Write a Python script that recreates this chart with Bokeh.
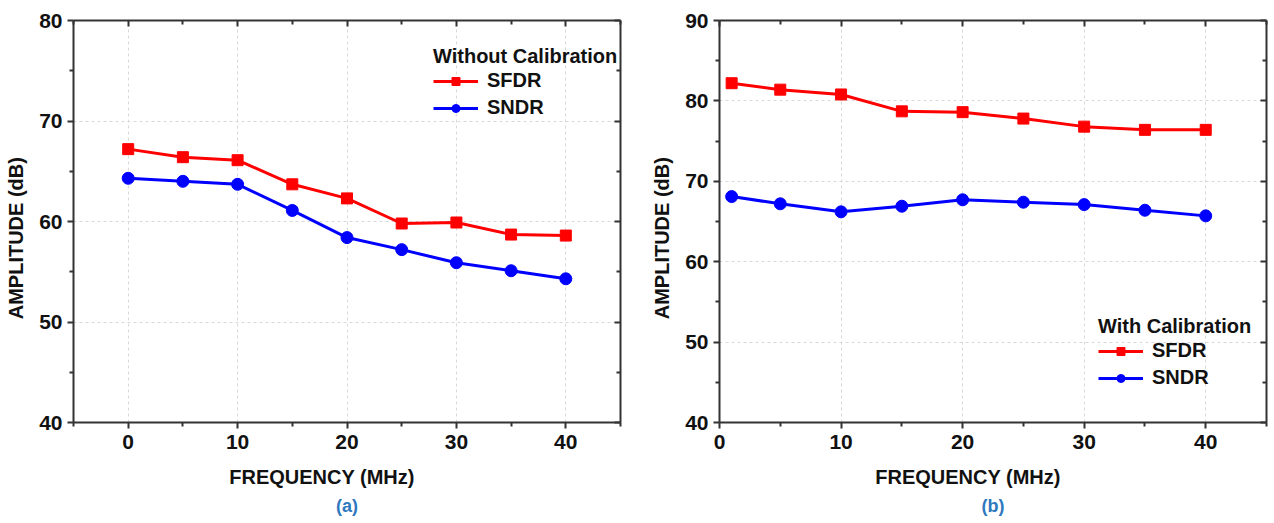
from bokeh.plotting import figure
from bokeh.layouts import row
from bokeh.models import (Range1d, FixedTicker, LinearAxis, Legend, LegendItem, Title,
                          CustomJSTickFormatter)
from bokeh.embed import file_html
from bokeh.resources import INLINE

# ---- data ----
freq_a = [0, 5, 10, 15, 20, 25, 30, 35, 40]
sfdr_a = [67.2, 66.4, 66.1, 63.7, 62.3, 59.8, 59.9, 58.7, 58.6]
sndr_a = [64.3, 64.0, 63.7, 61.1, 58.4, 57.2, 55.9, 55.1, 54.3]

freq_b = [1, 5, 10, 15, 20, 25, 30, 35, 40]
sfdr_b = [82.2, 81.4, 80.8, 78.7, 78.6, 77.8, 76.8, 76.4, 76.4]
sndr_b = [68.1, 67.2, 66.2, 66.9, 67.7, 67.4, 67.1, 66.4, 65.7]

x_major = [0, 10, 20, 30, 40]
xa_minor = [-5, 5, 15, 25, 35, 45]
xb_minor = [5, 15, 25, 35, 45]
ya_major = [40, 50, 60, 70, 80]
ya_minor = [45, 55, 65, 75]
yb_major = [40, 50, 60, 70, 80, 90]
yb_minor = [45, 55, 65, 75, 85]

x_label = "FREQUENCY (MHz)"
y_label = "AMPLITUDE (dB)"
NB = "\u00a0"

FONT = "Liberation Sans"
RED = "#ff0000"
BLUE = "#0000ff"
AXC = "#333333"
CAPC = "#2e78c0"


def style_axis(ax, ticker, side):
    ax.ticker = ticker
    ax.axis_line_width = 2
    ax.axis_line_color = AXC
    ax.major_tick_line_color = AXC
    ax.minor_tick_line_color = AXC
    ax.major_tick_line_width = 2
    ax.minor_tick_line_width = 2
    ax.major_label_text_font = FONT
    ax.major_label_text_font_style = "bold"
    ax.major_label_text_font_size = "21px"
    ax.major_label_text_color = "#111111"
    ax.axis_label_text_font = FONT
    ax.axis_label_text_font_style = "bold"
    ax.axis_label_text_font_size = "20px"
    ax.axis_label_text_color = "#111111"
    if side in ("left", "below"):
        ax.major_tick_out = 6
        ax.major_tick_in = 0
        ax.minor_tick_out = 4
        ax.minor_tick_in = 0
        ax.major_label_standoff = 5
    else:
        ax.major_tick_out = 0
        ax.major_tick_in = 6
        ax.minor_tick_out = 0
        ax.minor_tick_in = 4
        ax.formatter = CustomJSTickFormatter(code="return ''")
        ax.major_label_standoff = 0


def make_plot(xs, sfdr, sndr, xr, yr, xminor, ymajor, yminor, title, width,
              bl, br, caption, leg_loc):
    p = figure(width=width, height=520, x_range=Range1d(*xr), y_range=Range1d(*yr),
               output_backend="svg", toolbar_location=None,
               min_border_left=bl, min_border_right=br, min_border_top=20,
               min_border_bottom=98)
    p.outline_line_color = None
    p.background_fill_color = "white"
    p.border_fill_color = "white"
    xt = FixedTicker(ticks=x_major, minor_ticks=xminor)
    yt = FixedTicker(ticks=ymajor, minor_ticks=yminor)
    style_axis(p.xaxis[0], xt, "below")
    style_axis(p.yaxis[0], yt, "left")
    p.xaxis[0].major_label_standoff = 6
    p.xaxis[0].axis_label = x_label + NB * 9
    p.xaxis[0].axis_label_standoff = 14
    p.yaxis[0].axis_label = y_label + NB * 6
    p.yaxis[0].axis_label_standoff = 9
    top = LinearAxis()
    style_axis(top, FixedTicker(ticks=x_major, minor_ticks=xminor), "above")
    right = LinearAxis()
    style_axis(right, FixedTicker(ticks=ymajor, minor_ticks=yminor), "right")
    p.add_layout(top, "above")
    p.add_layout(right, "right")

    p.xgrid.ticker = FixedTicker(ticks=x_major)
    p.ygrid.ticker = FixedTicker(ticks=ymajor)
    for g in (p.xgrid[0], p.ygrid[0]):
        g.grid_line_color = "#d9d9d9"
        g.grid_line_dash = "3 3"
        g.grid_line_width = 1

    l1 = p.line(xs, sfdr, line_color=RED, line_width=3)
    m1 = p.scatter(xs, sfdr, marker="square", size=11, fill_color=RED, line_color=RED)
    l2 = p.line(xs, sndr, line_color=BLUE, line_width=3)
    m2 = p.scatter(xs, sndr, marker="circle", size=12, fill_color=BLUE, line_color=BLUE)

    leg = Legend(items=[LegendItem(label="SFDR", renderers=[l1, m1]),
                        LegendItem(label="SNDR", renderers=[l2, m2])],
                 location=leg_loc, title=title,
                 title_text_font=FONT, title_text_font_style="bold",
                 title_text_font_size="20px", title_text_color="#111111",
                 title_standoff=1,
                 label_text_font=FONT, label_text_font_style="bold",
                 label_text_font_size="20px", label_text_color="#111111",
                 glyph_width=45, glyph_height=20, label_height=20, spacing=4,
                 label_standoff=9, padding=0, margin=0,
                 border_line_color=None, background_fill_alpha=0)
    p.add_layout(leg, "center")

    cap = Title(text=caption, align="center", text_font=FONT, text_font_style="bold",
                text_font_size="18px", text_color=CAPC, standoff=7, offset=0)
    p.add_layout(cap, "below")
    return p


p1 = make_plot(freq_a, sfdr_a, sndr_a, (-5, 45), (40, 80), xa_minor, ya_major, ya_minor,
               "Without Calibration", 629, 73, 9, "(a)", (360, 303))
p2 = make_plot(freq_b, sfdr_b, sndr_b, (0, 45), (40, 90), xb_minor, yb_major, yb_minor,
               "With Calibration", 643, 90, 6, "(b)", (379, 33))

layout = row(p1, p2)
open("out.html", "w").write(file_html(layout, INLINE))
